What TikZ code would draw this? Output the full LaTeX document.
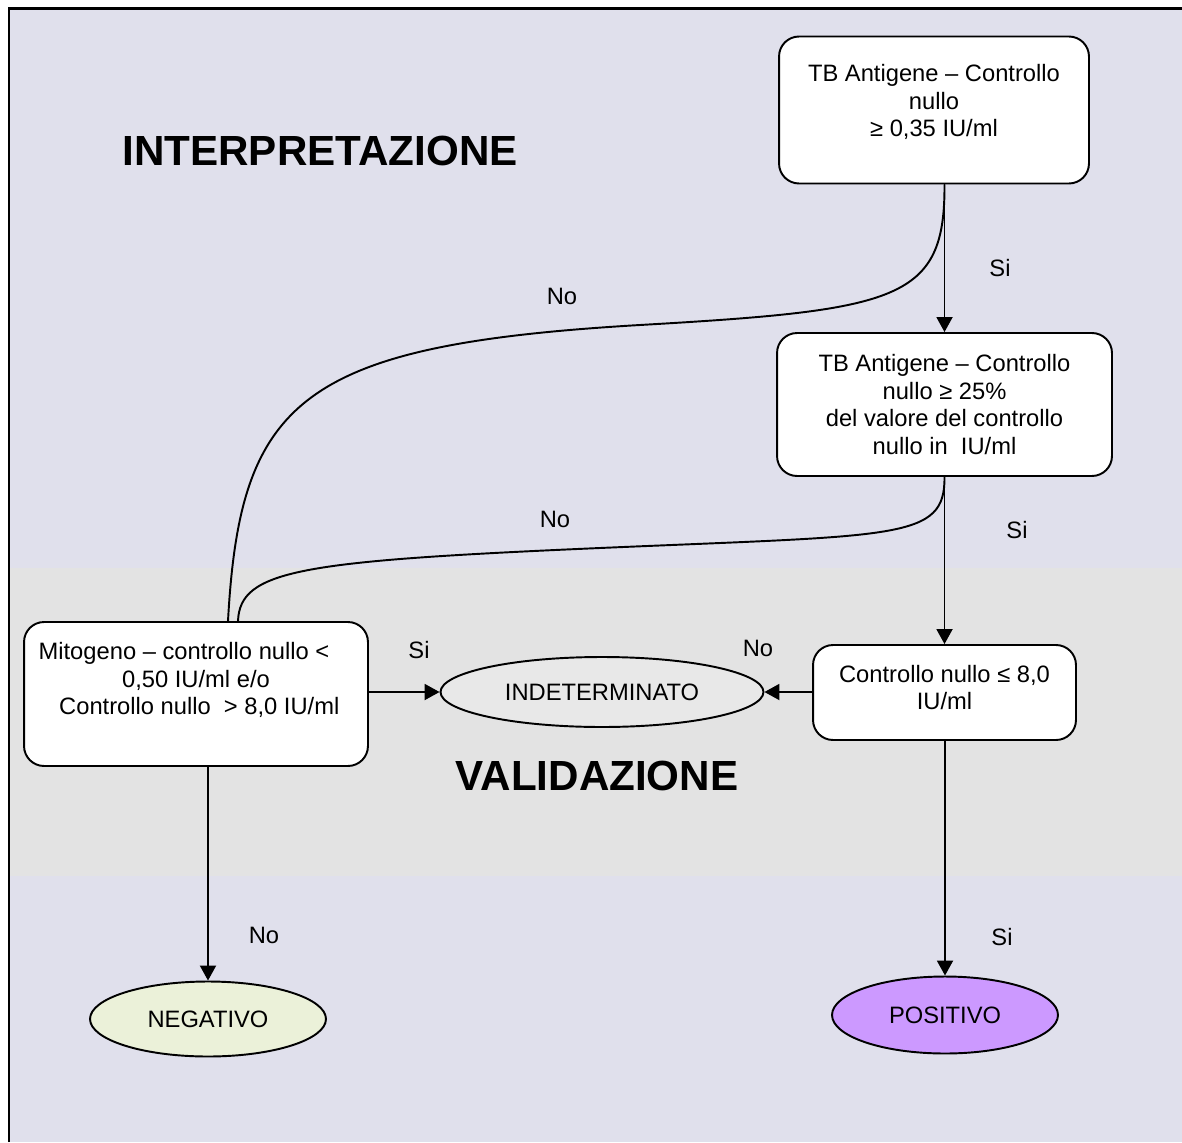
\documentclass[tikz,border=0pt]{standalone}
\usepackage{fontspec}
\setmainfont{Liberation Sans}
\usetikzlibrary{arrows.meta,shapes.geometric,calc}
\definecolor{bglav}{HTML}{E0E0EC}
\definecolor{bandgrey}{HTML}{E3E3E3}
\definecolor{indetfill}{HTML}{E8E8E8}
\definecolor{negfill}{HTML}{EBF1D9}
\definecolor{posfill}{HTML}{CC99FF}

\begin{document}
\begin{tikzpicture}[x=0.02cm, y=-0.02cm,
  cbox/.style={draw, line width=1.1pt, fill=white, rounded corners=0.4cm},
  ctext/.style={align=center, inner sep=0pt, font=\fontsize{13.5}{15.6}\selectfont},
  oval/.style={draw, ellipse, line width=1.1pt, inner sep=0pt, font=\fontsize{13.5}{15.6}\selectfont},
  lbl/.style={inner sep=0pt, font=\fontsize{13.5}{15.6}\selectfont},
  title/.style={inner sep=0pt, font=\bfseries\fontsize{24}{28}\selectfont},
  flow/.style={line width=1.1pt, -{Triangle[length=0.3cm,width=0.32cm]}},
  link/.style={line width=1.1pt}]
\useasboundingbox (0,0) rectangle (1182,1142);
% background and validation band
\fill[bglav] (9,9) rectangle (1182,1142);
\fill[bandgrey] (9,568) rectangle (1182,876);
\draw[line width=0.06cm] (9,1142) -- (9,9) -- (1182,9);

\node[title] (interp) at (320,151) {INTERPRETAZIONE};
\node[title] (valid) at (597,776) {VALIDAZIONE};

% boxes
\node[cbox, minimum width=6.2cm, minimum height=2.94cm] (antigen) at (934,110) {};
\node[ctext] (antigen-txt) at ($(antigen)+(0,-8)$)
  {TB Antigene – Controllo\\nullo\\≥ 0,35 IU/ml};
\node[cbox, minimum width=6.7cm, minimum height=2.86cm] (ratio) at (944.5,404.5) {};
\node[ctext] (ratio-txt) at (ratio)
  {TB Antigene – Controllo\\nullo ≥ 25\%\\del valore del controllo\\nullo in\ \ IU/ml};
\node[cbox, minimum width=6.88cm, minimum height=2.88cm] (mitogen) at (196,694) {};
\node[ctext] (mitogen-txt) at ($(mitogen)+(0,-14)$)
  {Mitogeno – controllo nullo <\hspace*{0.48cm}\\0,50 IU/ml e/o\\\ Controllo nullo\ \ > 8,0 IU/ml};
\node[cbox, minimum width=5.26cm, minimum height=1.9cm] (nullctl) at (944.5,692.5) {};
\node[ctext] (nullctl-txt) at ($(nullctl)+(0,-5)$)
  {Controllo nullo ≤ 8,0\\IU/ml};

% outcomes
\node[oval, fill=indetfill, minimum width=6.46cm, minimum height=1.4cm] (indet) at (602,692) {INDETERMINATO};
\node[oval, fill=negfill, minimum width=4.72cm, minimum height=1.5cm] (neg) at (208,1019) {NEGATIVO};
\node[oval, fill=posfill, minimum width=4.52cm, minimum height=1.54cm] (pos) at (945,1015) {POSITIVO};

% arrows
\draw[flow] (antigen.south -| ratio.north) -- (ratio.north);
\draw[flow] (ratio.south) -- (nullctl.north);
\draw[flow] (nullctl.west |- indet.east) -- (indet.east);
\draw[flow] (mitogen.east |- indet.west) -- (indet.west);
\draw[flow] (neg.north |- mitogen.south) -- (neg.north);
\draw[flow] (nullctl.south -| pos.north) -- (pos.north);
\draw[link] (antigen.south -| ratio.north) .. controls (945,300) and (900,310) .. (640,325)
  .. controls (300,345) and (240,400) .. ($(mitogen.north)+(32,0)$);
\draw[link] (ratio.south) .. controls (945,540) and (900,535) .. (600,548)
  .. controls (300,561) and (240,570) .. ($(mitogen.north)+(42,0)$);

% labels
\node[lbl] (si-a) at (1000,268) {Si};
\node[lbl] (si-b) at (1017,530) {Si};
\node[lbl] (no-a) at (562,296) {No};
\node[lbl] (no-b) at (555,519) {No};
\node[lbl] (si-c) at (419,650) {Si};
\node[lbl] (no-c) at (758,648) {No};
\node[lbl] (no-d) at (264,935) {No};
\node[lbl] (si-d) at (1002,937) {Si};
\end{tikzpicture}
\end{document}
